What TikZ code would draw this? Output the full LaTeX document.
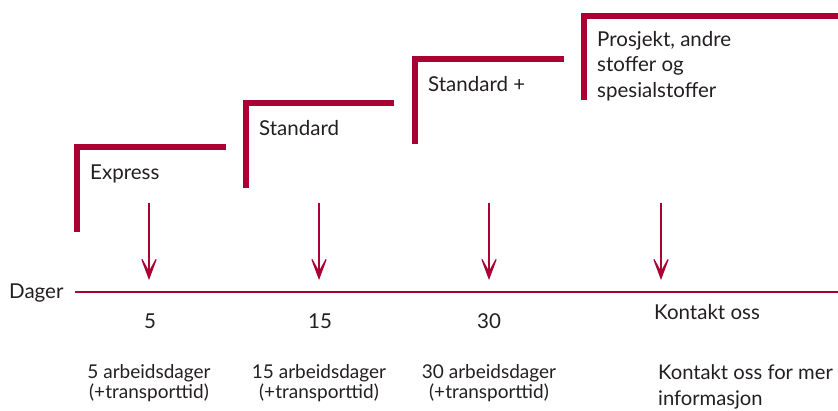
\documentclass[tikz,border=0pt]{standalone}
\usepackage{fontspec}
\setmainfont{Lato}
\usetikzlibrary{arrows.meta}
\definecolor{crim}{RGB}{170,0,52}
\definecolor{txt}{RGB}{35,31,32}
\begin{document}
\begin{tikzpicture}[x=1pt,y=-1pt,
  bracket/.style={draw=crim,line width=5.5pt,line cap=butt,line join=miter},
  axis/.style={draw=crim,line width=2.8pt},
  darrow/.style={draw=crim,line width=2.8pt,-{Stealth[length=28pt,width=21pt,inset=19pt,line width=1.2pt]}},
  lbl/.style={inner sep=0pt,text=txt,font=\fontsize{20.5}{25.5}\selectfont,align=left},
  sub/.style={inner sep=0pt,text=txt,font=\fontsize{19}{20}\selectfont,align=center},
  subl/.style={inner sep=0pt,text=txt,font=\fontsize{20.2}{26}\selectfont,align=left}]
\useasboundingbox (0,0) rectangle (838,410);
% brackets
\draw[bracket] (77,232) -- (77,147) -- (226,147);
\draw[bracket] (246,188) -- (246,103) -- (394,103);
\draw[bracket] (415,144) -- (415,59) -- (564,59);
\draw[bracket] (584,100) -- (584,16) -- (838,16);
% bracket labels
\node[lbl,anchor=base west] (express) at (90,179) {Express};
\node[lbl,anchor=base west] (standard) at (259,135) {Standard};
\node[lbl,anchor=base west] (standardp) at (428,91) {Standard +};
\node[lbl,anchor=base west] (prosjekt) at (597,97) {Prosjekt, andre\\stoffer og\\spesialstoffer};
% axis
\node[lbl,anchor=base west] (dager) at (9,298) {Dager};
\coordinate (axL) at (75,292);
\coordinate (axR) at (838,292);
\draw[axis] (axL) -- (axR);
% arrows
\foreach \n/\x in {a/149,b/319,c/489,d/661}{
  \coordinate (\n top) at (\x,203);
  \coordinate (\n tip) at (\x,280);
  \draw[darrow] (\n top) -- (\n tip);
}
% values
\node[lbl,anchor=base] (v5) at (150,328) {5};
\node[lbl,anchor=base] (v15) at (320,328) {15};
\node[lbl,anchor=base] (v30) at (489,328) {30};
\node[lbl,anchor=base west] (vk) at (654,319) {Kontakt oss};
% descriptions
\node[sub,anchor=base] (d5) at (149,398) {5 arbeidsdager\\(+transporttid)};
\node[sub,anchor=base] (d15) at (319,398) {15 arbeidsdager\\(+transporttid)};
\node[sub,anchor=base] (d30) at (489,398) {30 arbeidsdager\\(+transporttid)};
\node[subl,anchor=base west] (dk) at (658,405) {Kontakt oss for mer\\informasjon};
\end{tikzpicture}
\end{document}
